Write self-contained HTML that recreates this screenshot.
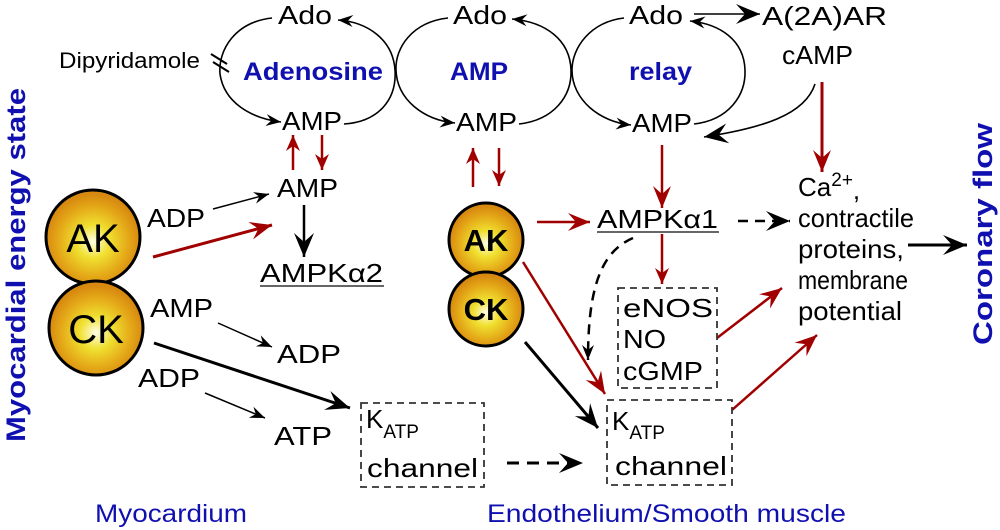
<!DOCTYPE html>
<html><head><meta charset="utf-8"><style>
html,body{margin:0;padding:0;background:#fff;}
svg{display:block;}
text{font-family:"Liberation Sans",Arial,sans-serif;fill:#000;}
.b{font-weight:bold;fill:#1010b0;}
</style></head><body>
<svg width="1000" height="530" viewBox="0 0 1000 530" xmlns="http://www.w3.org/2000/svg">
<defs>
<radialGradient id="g" cx="50%" cy="55%" r="50%">
<stop offset="0" stop-color="#ffffe8"/>
<stop offset="0.35" stop-color="#f0e030"/>
<stop offset="0.75" stop-color="#e4a818"/>
<stop offset="1" stop-color="#d88a10"/>
</radialGradient>
<marker id="ms" markerUnits="userSpaceOnUse" viewBox="-16 -7 18 14" markerWidth="18" markerHeight="14" refX="0" refY="0" orient="auto"><path d="M0,0 L-15,-6 L-10,0 L-15,6 Z" fill="#000"/></marker>
<marker id="mb" markerUnits="userSpaceOnUse" viewBox="-26 -11 28 22" markerWidth="28" markerHeight="22" refX="0" refY="0" orient="auto"><path d="M0,0 L-24,-10 L-15,0 L-24,10 Z" fill="#000"/></marker>
<marker id="mr" markerUnits="userSpaceOnUse" viewBox="-24 -10 26 20" markerWidth="26" markerHeight="20" refX="0" refY="0" orient="auto"><path d="M0,0 L-22,-9 L-14,0 L-22,9 Z" fill="#a00000"/></marker>
<marker id="mrs" markerUnits="userSpaceOnUse" viewBox="-18 -8 20 16" markerWidth="20" markerHeight="16" refX="0" refY="0" orient="auto"><path d="M0,0 L-16,-7 L-11,0 L-16,7 Z" fill="#a00000"/></marker>
</defs>

<g fill="none" stroke="#000" stroke-width="1.6">
<path d="M272,18 C235,22 218,50 220,74 C224,102 250,118 281,122" marker-end="url(#ms)"/>
<path d="M344,124 C378,122 397,100 395,70 C393,40 368,22 338,20" marker-end="url(#ms)"/>
<path d="M448,18 C412,22 395,48 396,70 C397,100 424,120 455,123" marker-end="url(#ms)"/>
<path d="M519,124 C554,120 572,96 571,70 C570,40 546,22 512,19" marker-end="url(#ms)"/>
<path d="M624,18 C590,22 572,48 572,70 C572,100 600,122 631,125" marker-end="url(#ms)"/>
<path d="M694,124 C729,120 746,95 745,70 C744,40 720,24 690,21" marker-end="url(#ms)"/>
<path d="M815,84 C805,115 762,128 704,137" marker-end="url(#mb)"/>
<line x1="694" y1="14" x2="760" y2="14" marker-end="url(#mb)"/>
</g>
<g stroke="#000" stroke-width="2">
<line x1="211" y1="54" x2="227" y2="64"/>
<line x1="213" y1="62" x2="229" y2="72"/>
</g>

<g stroke="#a00000" stroke-width="2.5" fill="none">
<line x1="293" y1="170" x2="293" y2="135" marker-end="url(#mrs)"/>
<line x1="322" y1="135" x2="322" y2="170" marker-end="url(#mrs)"/>
<line x1="473" y1="187" x2="473" y2="148" marker-end="url(#mrs)"/>
<line x1="499" y1="148" x2="499" y2="186" marker-end="url(#mrs)"/>
<line x1="662" y1="145" x2="662" y2="208" marker-end="url(#mr)"/>
<line x1="662" y1="234" x2="662" y2="284" marker-end="url(#mrs)"/>
<line x1="822" y1="82" x2="822" y2="172" stroke-width="3" marker-end="url(#mr)"/>
<line x1="153" y1="257" x2="272" y2="225" stroke-width="3" marker-end="url(#mr)"/>
<line x1="537" y1="222" x2="590" y2="222" marker-end="url(#mr)"/>
<line x1="523" y1="262" x2="605" y2="394" marker-end="url(#mr)"/>
<line x1="717" y1="338" x2="782" y2="288" marker-end="url(#mr)"/>
<line x1="732" y1="410" x2="817" y2="335" marker-end="url(#mr)"/>
</g>

<g stroke="#000" fill="none">
<line x1="213" y1="209" x2="269" y2="194" stroke-width="1.5" marker-end="url(#ms)"/>
<line x1="304" y1="205" x2="304" y2="257" stroke-width="2.5" marker-end="url(#mb)"/>
<line x1="218" y1="323" x2="272" y2="347" stroke-width="1.5" marker-end="url(#ms)"/>
<line x1="205" y1="393" x2="265" y2="418" stroke-width="1.5" marker-end="url(#ms)"/>
<line x1="154" y1="343" x2="350" y2="408" stroke-width="3" marker-end="url(#mb)"/>
<line x1="525" y1="342" x2="598" y2="428" stroke-width="3" marker-end="url(#mb)"/>
<line x1="908" y1="245" x2="967" y2="245" stroke-width="3" marker-end="url(#mb)"/>
<line x1="507" y1="463" x2="583" y2="463" stroke-width="3" stroke-dasharray="12,8" marker-end="url(#mb)"/>
<line x1="738" y1="221" x2="790" y2="221" stroke-width="2.5" stroke-dasharray="10,7" marker-end="url(#mb)"/>
<path d="M633,238 C600,252 588,290 588,360" stroke-width="2.5" stroke-dasharray="10,7" marker-end="url(#ms)"/>
</g>

<g fill="none" stroke="#333" stroke-width="1.8" stroke-dasharray="7,5">
<rect x="361" y="403" width="123" height="84"/>
<rect x="607" y="400" width="125" height="85"/>
<rect x="618" y="288" width="99" height="100"/>
</g>

<g stroke="#000" stroke-width="3" fill="url(#g)">
<circle cx="93" cy="237" r="47"/>
<circle cx="96" cy="328" r="47"/>
<circle cx="486" cy="240" r="37"/>
<circle cx="486" cy="309" r="37"/>
</g>
<text x="93" y="252" font-size="40" text-anchor="middle">AK</text>
<text x="96" y="343" font-size="40" text-anchor="middle">CK</text>
<text x="486" y="251" font-size="31" font-weight="bold" text-anchor="middle">AK</text>
<text x="486" y="320" font-size="31" font-weight="bold" text-anchor="middle">CK</text>

<g font-size="26">
<text x="278" y="24" textLength="54" lengthAdjust="spacingAndGlyphs">Ado</text>
<text x="453" y="24" textLength="54" lengthAdjust="spacingAndGlyphs">Ado</text>
<text x="629" y="24" textLength="54" lengthAdjust="spacingAndGlyphs">Ado</text>
<text x="762" y="25" textLength="125" lengthAdjust="spacingAndGlyphs">A(2A)AR</text>
<text x="782" y="64" textLength="71" lengthAdjust="spacingAndGlyphs">cAMP</text>
<text x="282" y="130" textLength="60" lengthAdjust="spacingAndGlyphs">AMP</text>
<text x="456" y="131" textLength="61" lengthAdjust="spacingAndGlyphs">AMP</text>
<text x="632" y="132" textLength="60" lengthAdjust="spacingAndGlyphs">AMP</text>
<text x="277" y="197" textLength="61" lengthAdjust="spacingAndGlyphs">AMP</text>
<text x="147" y="227" textLength="58" lengthAdjust="spacingAndGlyphs">ADP</text>
<text x="260" y="282" textLength="123" lengthAdjust="spacingAndGlyphs">AMPKα2</text>
<text x="150" y="317" textLength="63" lengthAdjust="spacingAndGlyphs">AMP</text>
<text x="277" y="363" textLength="64" lengthAdjust="spacingAndGlyphs">ADP</text>
<text x="138" y="387" textLength="62" lengthAdjust="spacingAndGlyphs">ADP</text>
<text x="274" y="445" textLength="58" lengthAdjust="spacingAndGlyphs">ATP</text>
<text x="366" y="428">K<tspan font-size="19" dy="10">ATP</tspan></text>
<text x="367" y="477" textLength="111" lengthAdjust="spacingAndGlyphs">channel</text>
<text x="597" y="228" textLength="121" lengthAdjust="spacingAndGlyphs">AMPKα1</text>
<text x="623" y="317" textLength="90" lengthAdjust="spacingAndGlyphs">eNOS</text>
<text x="623" y="348" textLength="43" lengthAdjust="spacingAndGlyphs">NO</text>
<text x="623" y="380" textLength="80" lengthAdjust="spacingAndGlyphs">cGMP</text>
<text x="612" y="430">K<tspan font-size="19" dy="9">ATP</tspan></text>
<text x="615" y="475" textLength="112" lengthAdjust="spacingAndGlyphs">channel</text>
<text x="798" y="196">Ca<tspan font-size="19" dy="-10">2+</tspan><tspan dy="13">,</tspan></text>
<text x="798" y="227" textLength="116" lengthAdjust="spacingAndGlyphs">contractile</text>
<text x="798" y="258" textLength="106" lengthAdjust="spacingAndGlyphs">proteins,</text>
<text x="798" y="289" textLength="110" lengthAdjust="spacingAndGlyphs">membrane</text>
<text x="798" y="320" textLength="104" lengthAdjust="spacingAndGlyphs">potential</text>
</g>
<line x1="260" y1="286" x2="384" y2="286" stroke="#333" stroke-width="1.5"/>
<line x1="597" y1="232" x2="719" y2="232" stroke="#333" stroke-width="1.5"/>
<text x="59" y="68" font-size="22" textLength="141" lengthAdjust="spacingAndGlyphs">Dipyridamole</text>

<g font-size="25">
<text class="b" x="243" y="80" textLength="140" lengthAdjust="spacingAndGlyphs">Adenosine</text>
<text class="b" x="450" y="80" textLength="58" lengthAdjust="spacingAndGlyphs">AMP</text>
<text class="b" x="629" y="80" textLength="63" lengthAdjust="spacingAndGlyphs">relay</text>
</g>
<text x="95" y="522" font-size="25" style="fill:#1010b0" textLength="152" lengthAdjust="spacingAndGlyphs">Myocardium</text>
<text x="487" y="522" font-size="25" style="fill:#1010b0" textLength="359" lengthAdjust="spacingAndGlyphs">Endothelium/Smooth muscle</text>
<text class="b" font-size="27" transform="translate(25,442) rotate(-90)" textLength="354" lengthAdjust="spacingAndGlyphs">Myocardial energy state</text>
<text class="b" font-size="27" transform="translate(992,345) rotate(-90)" textLength="222" lengthAdjust="spacingAndGlyphs">Coronary flow</text>
</svg>
</body></html>
